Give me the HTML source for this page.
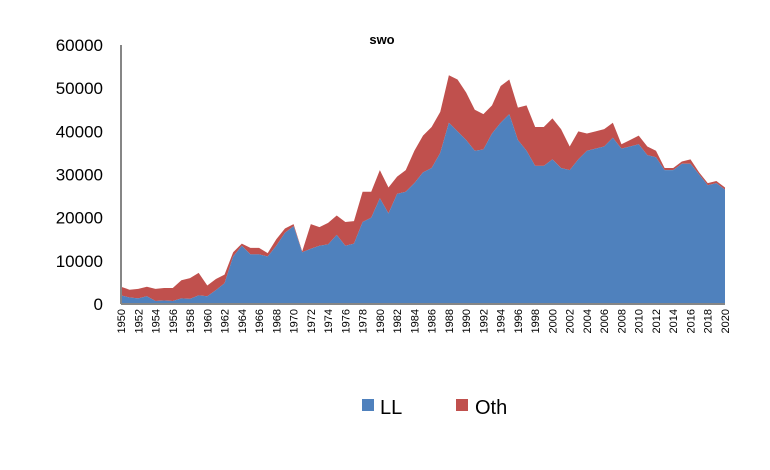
<!DOCTYPE html>
<html><head><meta charset="utf-8"><style>
body{margin:0;background:#fff;font-family:"Liberation Sans",sans-serif}
</style></head><body>
<svg id="chart" width="770" height="465" xmlns="http://www.w3.org/2000/svg">
<rect width="770" height="465" fill="#fff"/>
<text x="382" y="44" font-size="13" font-weight="bold" text-anchor="middle">swo</text>
<g id="plot"></g>
<g>
<rect x="362" y="399" width="12" height="12" fill="#4f81bd"/>
<text x="380" y="414" font-size="20">LL</text>
<rect x="456" y="399" width="12" height="12" fill="#c0504d"/>
<text x="475" y="414" font-size="20">Oth</text>
</g>
</svg>
<script>
const years=[];for(let y=1950;y<=2020;y++)years.push(y);
const llValues=[2000,1500,1300,1800,700,800,700,1300,1200,2000,1800,3200,4800,11000,13500,11500,11500,11000,13500,16500,18000,12000,12800,13500,13800,16000,13500,14000,19000,20000,24500,21000,25500,26000,28000,30500,31500,35000,42000,40000,38000,35500,35800,39500,42000,44000,38000,35500,32000,32000,33500,31500,31000,33500,35500,36000,36500,38500,36000,36500,37000,34500,34000,31000,31000,32500,32500,30000,27500,28000,26500];
const totalValues=[4000,3300,3500,4000,3500,3700,3700,5500,6000,7200,4300,5800,6800,12000,14000,13000,13000,11800,15000,17500,18500,12200,18500,17800,18800,20500,19000,19200,26000,26000,31000,27000,29500,31000,35500,39000,41000,44500,53000,52000,49000,45000,44000,46000,50500,52000,45500,46000,41000,41000,43000,40500,36500,40000,39500,40000,40500,42000,37000,38000,39000,36500,35500,31500,31500,33000,33500,30500,28000,28500,27000];
const othValues=totalValues.map((t,i)=>t-llValues[i]);
const yTicks=[0,10000,20000,30000,40000,50000,60000];
const NS="http://www.w3.org/2000/svg";
const x0=121,x1=725,yb=304,yt=45;
const xs=i=>x0+(x1-x0)*i/(years.length-1);
const ys=v=>yb-(yb-yt)*v/60000;
const g=document.getElementById('plot');
function mk(tag,attrs){const e=document.createElementNS(NS,tag);for(const k in attrs)e.setAttribute(k,attrs[k]);g.appendChild(e);return e;}
const totPts=[],llPts0=[];
years.forEach((y,i)=>{totPts.push(xs(i)+','+ys(llValues[i]+othValues[i]));llPts0.push(xs(i)+','+ys(llValues[i]));});
const othPts=totPts.concat(llPts0.slice().reverse()).join(' ');
const p1=mk('polygon',{points:othPts,fill:'#c0504d'});


const llPts=llPts0.concat([xs(years.length-1)+','+yb,xs(0)+','+yb]).join(' ');
const p2=mk('polygon',{points:llPts,fill:'#4f81bd'});


const ax=mk('line',{x1:x0,y1:yt,x2:x0,y2:yb,stroke:'#868686','stroke-width':2});


const bx=mk('line',{x1:x0,y1:yb,x2:x1,y2:yb,stroke:'#868686','stroke-width':2});


yTicks.forEach(v=>{
 const t=mk('text',{x:103,y:ys(v)+6,'font-size':17,'text-anchor':'end'});
 t.textContent=v;
 
 
});
years.forEach((y,i)=>{
 if(i%2)return;
 const x=xs(i)+4,yy=309;
 const t=mk('text',{x:x,y:yy,'font-size':11,'text-anchor':'end',transform:`rotate(-90 ${x} ${yy})`});
 t.textContent=y;
 
 
});
</script>
</body></html>
